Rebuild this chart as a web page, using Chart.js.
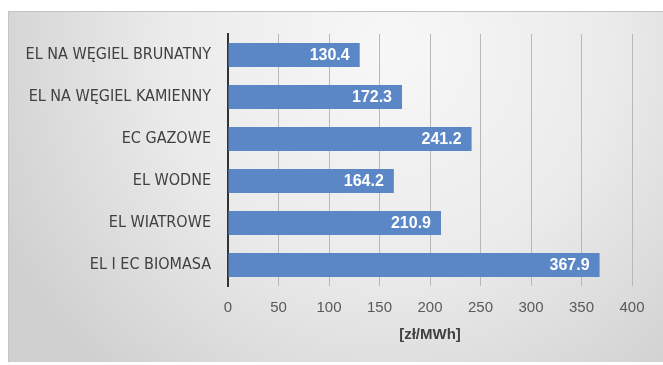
<!DOCTYPE html>
<html>
<head>
<meta charset="utf-8">
<script src="https://cdn.jsdelivr.net/npm/chart.js@4/dist/chart.umd.min.js"></script>
<style>
  html, body { margin: 0; padding: 0; background: #ffffff; }
  #wrap { width: 663px; height: 365px; }
</style>
</head>
<body>
<div id="wrap"><canvas id="c" width="663" height="365"></canvas></div>
<script>
// Unit cost by plant type
const categories = [
  'EL NA WĘGIEL BRUNATNY',
  'EL NA WĘGIEL KAMIENNY',
  'EC GAZOWE',
  'EL WODNE',
  'EL WIATROWE',
  'EL I EC BIOMASA'
];
const costValues = [130.4, 172.3, 241.2, 164.2, 210.9, 367.9];
const axisTicks = [0, 50, 100, 150, 200, 250, 300, 350, 400];
const unitLabel = '[zł/MWh]';

// Grey panel behind the whole chart
const panelBackground = {
  id: 'panelBackground',
  beforeDraw(chart) {
    const ctx = chart.ctx;
    const w = chart.width, h = chart.height;
    ctx.save();
    ctx.fillStyle = '#ffffff';
    ctx.fillRect(0, 0, w, h);
    const x0 = 8, y0 = 11, x1 = w, y1 = 362;
    const g = ctx.createRadialGradient(390, 50, 10, 390, 50, 430);
    g.addColorStop(0, '#f7f7f7');
    g.addColorStop(0.5, '#ebebeb');
    g.addColorStop(1, '#d0d0d0');
    ctx.fillStyle = g;
    ctx.fillRect(x0, y0, x1 - x0, y1 - y0);
    ctx.strokeStyle = '#c4c4c4';
    ctx.lineWidth = 1;
    ctx.beginPath();
    ctx.moveTo(x0 + 0.5, y1);
    ctx.lineTo(x0 + 0.5, y0 + 0.5);
    ctx.lineTo(x1, y0 + 0.5);
    ctx.stroke();
    ctx.restore();
  }
};

// White value labels inside the end of each bar
const barValueLabels = {
  id: 'barValueLabels',
  afterDatasetsDraw(chart) {
    const ctx = chart.ctx;
    const meta = chart.getDatasetMeta(0);
    ctx.save();
    ctx.font = 'bold 16px "Liberation Sans", Arial, sans-serif';
    ctx.fillStyle = '#ffffff';
    ctx.textAlign = 'right';
    ctx.textBaseline = 'middle';
    meta.data.forEach((bar, i) => {
      const v = chart.data.datasets[0].data[i];
      ctx.fillText(v.toFixed(1), bar.x - 10, bar.y + 1);
    });
    ctx.restore();
  }
};

new Chart(document.getElementById('c'), {
  type: 'bar',
  data: {
    labels: categories,
    datasets: [{
      data: costValues,
      backgroundColor: '#5b87c6',
      borderWidth: 0,
      categoryPercentage: 1.0,
      barPercentage: 0.57
    }]
  },
  options: {
    indexAxis: 'y',
    responsive: false,
    animation: false,
    devicePixelRatio: 1,
    layout: { padding: { top: 34, right: 31, left: 0, bottom: 0 } },
    plugins: {
      legend: { display: false },
      tooltip: { enabled: false }
    },
    scales: {
      x: {
        min: 0,
        max: 400,
        afterBuildTicks(scale) {
          scale.ticks = axisTicks.map(v => ({ value: v }));
        },
        afterFit(scale) { scale.height = 79; },
        grid: { color: '#b8b8b8', lineWidth: 1, drawTicks: false },
        border: { display: false },
        ticks: {
          padding: 13,
          color: '#595959',
          font: { family: '"Liberation Sans", Arial, sans-serif', size: 15 }
        },
        title: {
          display: true,
          text: unitLabel,
          color: '#404040',
          font: { family: '"Liberation Sans", Arial, sans-serif', size: 15, weight: 'bold' },
          padding: { top: 4, bottom: 21 }
        }
      },
      y: {
        afterFit(scale) { scale.width = 228; },
        grid: { display: false, drawTicks: false },
        border: { display: true, color: '#333333', width: 2 },
        ticks: {
          padding: 17,
          color: '#404040',
          font: { family: '"Liberation Sans Narrow", "DejaVu Sans Condensed", sans-serif', size: 16 }
        }
      }
    }
  },
  plugins: [panelBackground, barValueLabels]
});
</script>
</body>
</html>
